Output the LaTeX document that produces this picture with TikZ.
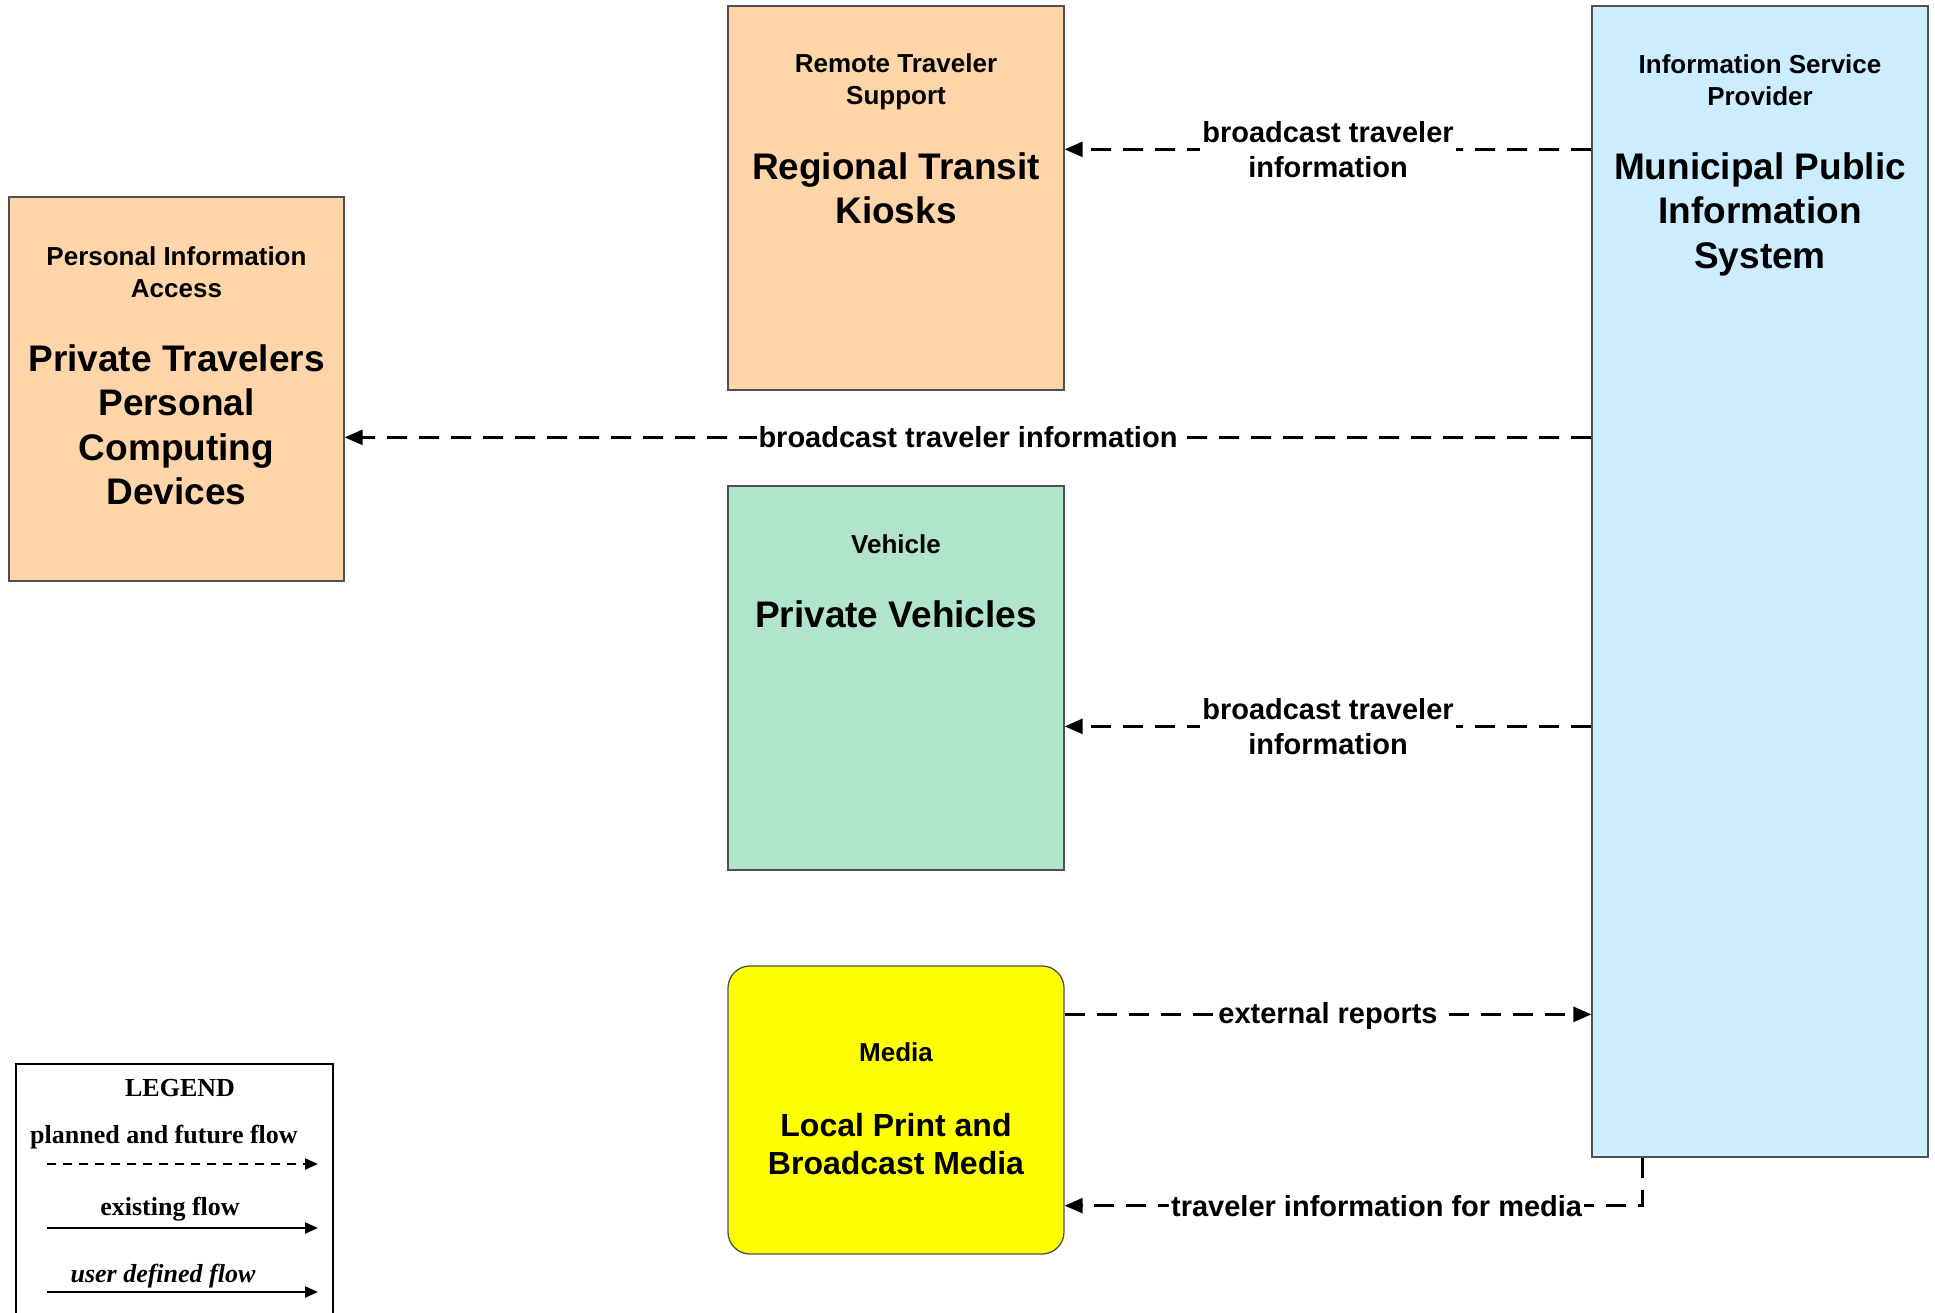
\documentclass[tikz,border=0pt]{standalone}
\usepackage{fontspec}
\setmainfont{Liberation Sans}
\newfontfamily\legendfont{Liberation Serif}
\usetikzlibrary{arrows.meta}
\definecolor{peach}{RGB}{253,213,168}
\definecolor{mint}{RGB}{176,228,203}
\definecolor{skyb}{RGB}{204,236,255}
\definecolor{yel}{RGB}{255,255,0}
\definecolor{edge}{RGB}{80,80,80}
\tikzset{
  box/.style={draw=edge, line width=1.3pt, inner sep=0pt, anchor=center},
  ttl/.style={align=center, font=\fontsize{26}{32}\selectfont\bfseries, inner sep=0pt},
  nm/.style={align=center, font=\fontsize{37}{44.5}\selectfont\bfseries, inner sep=0pt},
  flow/.style={line width=2.6pt, dash pattern=on 20pt off 12pt, -{Triangle[length=18pt,width=15pt]}},
  lbl/.style={fill=white, align=center, inner sep=2pt, font=\fontsize{29}{35}\selectfont\bfseries},
  legtxt/.style={font=\legendfont\fontsize{26}{30}\selectfont\bfseries, inner sep=0pt},
  legarrow/.style={line width=2pt, -{Triangle[length=13pt,width=11pt]}}
}
\begin{document}
\begin{tikzpicture}[x=1pt,y=-1pt]
\useasboundingbox (0,0) rectangle (1935,1313);
% boxes
\node[box, fill=peach, minimum width=336pt, minimum height=384pt] (rts) at (896,198) {};
\node[box, fill=peach, minimum width=335pt, minimum height=384pt] (pia) at (176.5,389) {};
\node[box, fill=mint, minimum width=336pt, minimum height=384pt] (veh) at (896,678) {};
\node[box, fill=yel, rounded corners=22pt, minimum width=336pt, minimum height=288pt] (med) at (896,1110) {};
\node[box, fill=skyb, minimum width=336pt, minimum height=1151pt] (isp) at (1760,581.5) {};
% box texts
\node[ttl] (rtsT) at (896,81.5) {Remote Traveler\\Support};
\node[nm] (rtsN) at (896,188.5) {Regional Transit\\Kiosks};
\node[ttl] (piaT) at (176.5,272.5) {Personal Information\\Access};
\node[nm] (piaN) at (176.5,425) {Private Travelers\\Personal\\Computing\\Devices};
\node[ttl] (vehT) at (896,544) {Vehicle};
\node[nm] (vehN) at (896,614) {Private Vehicles};
\node[ttl] (medT) at (896,1052) {Media};
\node[align=center, font=\fontsize{32}{38}\selectfont\bfseries, inner sep=0pt] (medN) at (896,1144) {Local Print and\\Broadcast Media};
\node[ttl] (ispT) at (1760,80) {Information Service\\Provider};
\node[nm] (ispN) at (1760,214) {Municipal Public\\Information\\System};
% ports
\coordinate (p1) at ([yshift=-144pt]rts.north east);
\coordinate (p2) at ([yshift=-241pt]pia.north east);
\coordinate (p3) at ([yshift=-241pt]veh.north east);
\coordinate (p4) at ([yshift=-49pt]med.north east);
\coordinate (p5) at ([yshift=49pt]med.south east);
\coordinate (p6) at ([xshift=51pt]isp.south west);
% connectors
\draw[flow] (isp.west |- p1) -- (p1) node[lbl, midway] (l1) {broadcast traveler\\information};
\draw[flow] (isp.west |- p2) -- (p2) node[lbl, midway] (l2) {broadcast traveler information};
\draw[flow] (isp.west |- p3) -- (p3) node[lbl, midway] (l3) {broadcast traveler\\information};
\draw[flow] (p4) -- (isp.west |- p4) node[lbl, midway, yshift=-2pt] (l4) {external reports};
\draw[flow] (p6) |- (p5) node[lbl, pos=0.73] (l5) {traveler information for media};
% legend
\draw[line width=1.5pt] (16,1313) -- (16,1064) -- (333,1064) -- (333,1313);
\node[legtxt] (lgT) at (180,1088) {LEGEND};
\node[legtxt] (lg1) at (164,1137) {planned and future flow};
\coordinate (a1s) at (47,1164); \coordinate (a1e) at (318,1164);
\draw[legarrow, dash pattern=on 9pt off 7pt] (a1s) -- (a1e);
\node[legtxt] (lg2) at (170,1209) {existing flow};
\coordinate (a2s) at (47,1228); \coordinate (a2e) at (318,1228);
\draw[legarrow] (a2s) -- (a2e);
\node[legtxt, font=\legendfont\fontsize{26}{30}\selectfont\bfseries\itshape] (lg3) at (163,1276) {user defined flow};
\coordinate (a3s) at (47,1292); \coordinate (a3e) at (318,1292);
\draw[legarrow] (a3s) -- (a3e);
\end{tikzpicture}
\end{document}
